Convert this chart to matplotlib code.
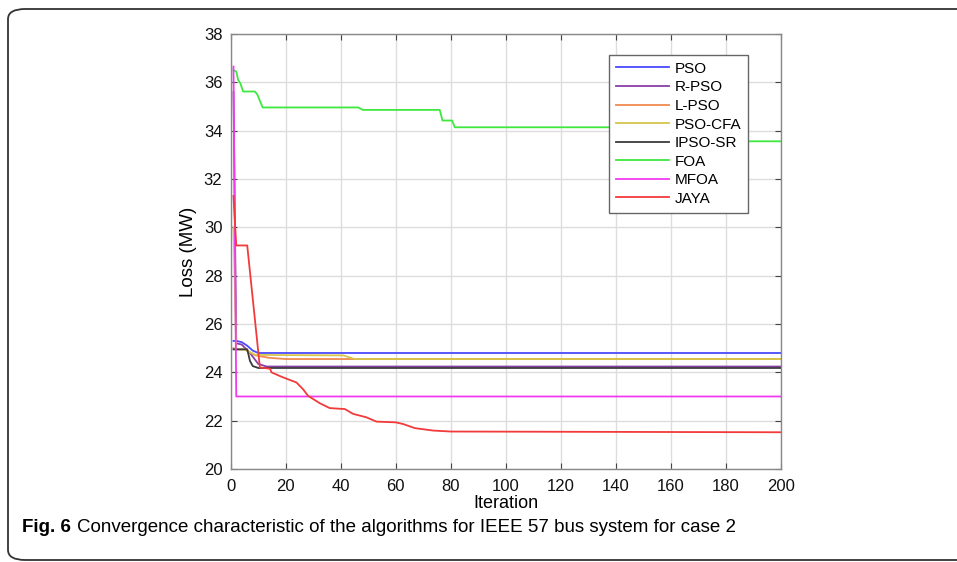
import matplotlib.pyplot as plt
from matplotlib.patches import FancyBboxPatch

# 数据：各算法收敛曲线的转折点 (iteration, loss)
pso_it = [1, 2, 4, 6, 8, 10, 200]
pso_v = [25.3, 25.3, 25.25, 25.1, 24.9, 24.8, 24.8]

rpso_it = [1, 2, 4, 7, 10, 13, 200]
rpso_v = [35.6, 25.2, 25.15, 24.8, 24.35, 24.24, 24.24]

lpso_it = [1, 2, 5, 9, 14, 20, 200]
lpso_v = [25.0, 24.95, 24.95, 24.7, 24.6, 24.55, 24.55]

cfa_it = [1, 2, 5, 9, 41, 45, 200]
cfa_v = [30.0, 24.95, 24.95, 24.72, 24.7, 24.55, 24.55]

ipso_it = [1, 2, 6, 7, 8, 10, 200]
ipso_v = [24.95, 24.95, 24.95, 24.47, 24.26, 24.18, 24.18]

foa_it = [1, 2, 2.7, 3.5, 4.5, 8.8, 9.7, 11.6, 46.4, 48, 76, 77, 80.5, 81.5, 150, 151, 200]
foa_v = [36.5, 36.45, 36.1, 35.96, 35.62, 35.62, 35.49, 34.96, 34.96, 34.86, 34.86,
         34.42, 34.42, 34.14, 34.14, 33.56, 33.56]

mfoa_it = [1, 2, 200]
mfoa_v = [36.65, 23.0, 23.0]

jaya_it = [1, 2, 6, 10.6, 14.3, 14.8, 18.4, 23.9, 26.3, 28.1, 32.4, 36, 41.5, 44.5,
           49.3, 53, 60, 62.7, 67, 73.6, 80, 200]
jaya_v = [31.3, 29.25, 29.25, 24.2, 24.15, 24.0, 23.82, 23.58, 23.3, 23.03, 22.72, 22.52,
          22.48, 22.28, 22.14, 21.96, 21.93, 21.86, 21.69, 21.59, 21.55, 21.52]

series = [
    ('PSO', pso_it, pso_v, '#4a4aff'),
    ('R-PSO', rpso_it, rpso_v, '#8a3fa8'),
    ('L-PSO', lpso_it, lpso_v, '#f08a50'),
    ('PSO-CFA', cfa_it, cfa_v, '#d6c64a'),
    ('IPSO-SR', ipso_it, ipso_v, '#3a3a3a'),
    ('FOA', foa_it, foa_v, '#3ee83e'),
    ('MFOA', mfoa_it, mfoa_v, '#f23af2'),
    ('JAYA', jaya_it, jaya_v, '#f23a3a'),
]

xticks = list(range(0, 201, 20))
yticks = list(range(20, 39, 2))

plt.rcParams['font.family'] = ['Liberation Sans', 'DejaVu Sans']

fig = plt.figure(figsize=(9.57, 5.62), dpi=100)
ax = fig.add_axes([0.2411, 0.1655, 0.5747, 0.774])

for label, it, v, color in series:
    ax.plot(it, v, color=color, linewidth=1.3, label=label)

ax.set_xlim(0, 200)
ax.set_ylim(20, 38)
ax.set_xticks(xticks)
ax.set_yticks(yticks)
ax.tick_params(direction='in', top=True, right=True, labelsize=12, length=4,
               color='#444444', labelcolor='#111111')
ax.tick_params(axis='x', pad=7)
ax.tick_params(axis='y', pad=6)
ax.grid(color='#dddddd', linewidth=1.0)
for sp in ax.spines.values():
    sp.set_color('#888888')
    sp.set_linewidth(1.0)

ax.set_xlabel('Iteration', fontsize=13, labelpad=1)
ax.set_ylabel('Loss (MW)', fontsize=13.5, labelpad=5)

leg = ax.legend(loc='upper left', bbox_to_anchor=(0.688, 0.952), borderaxespad=0,
                fontsize=11, handlelength=3.5, handletextpad=0.35, fancybox=False,
                framealpha=1, edgecolor='#666666', borderpad=0.45, labelspacing=0.3)
leg.get_frame().set_linewidth(1.0)

# 外框与图注
frame = FancyBboxPatch((8 / 957, 2 / 562), 1.2, (560 - 9) / 562,
                       boxstyle='round,pad=0,rounding_size=0.018',
                       transform=fig.transFigure, fill=False,
                       edgecolor='#333333', linewidth=1.3, clip_on=False)
fig.patches.append(frame)

cap_y = 1 - 528 / 562
fig.text(22 / 957, cap_y, 'Fig. 6', fontsize=13.5, fontweight='bold', va='center')
fig.text(77 / 957, cap_y,
         'Convergence characteristic of the algorithms for IEEE 57 bus system for case 2',
         fontsize=13.5, va='center')

fig.savefig('out.png', dpi=100)
